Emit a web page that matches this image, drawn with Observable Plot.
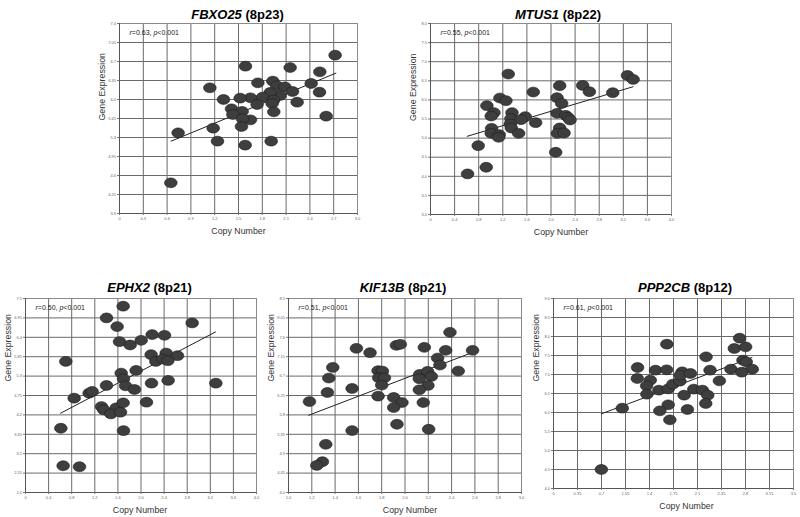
<!DOCTYPE html>
<html><head><meta charset="utf-8">
<script src="https://cdn.jsdelivr.net/npm/d3@7"></script>
<script src="https://cdn.jsdelivr.net/npm/@observablehq/plot@0.6"></script>
<style>
body{margin:0;background:#fff;}
#wrap{position:relative;width:800px;height:517px;overflow:hidden;background:#fff;font-family:"Liberation Sans",Arial,sans-serif;}
#wrap svg{position:absolute;overflow:visible;}
</style></head><body><div id="wrap"></div>
<script>
// ---------- DATA ----------
// FBXO25 (8p23)
const fbxo25X = [2.718,1.588,2.151,2.525,1.139,1.744,1.933,1.983,2.084,2.416,2.521,2.181,2.025,1.899,1.803,1.651,1.521,1.311,1.941,2.239,1.735,1.924,1.945,1.412,1.546,1.429,2.605,1.651,1.550,1.538,1.181,0.739,1.235,1.912,1.584,0.647];
const fbxo25Y = [6.817,6.614,6.589,6.510,6.215,6.307,6.338,6.252,6.233,6.295,6.135,6.147,6.074,6.129,6.043,6.031,6.025,6.000,5.988,5.951,5.908,5.926,5.773,5.828,5.779,5.724,5.693,5.625,5.644,5.503,5.472,5.386,5.233,5.233,5.159,4.465];
const fbxo25FitX = [0.651, 2.727];
const fbxo25FitY = [5.233, 6.485];
const fbxo25XTicks = ["0","0.3","0.6","0.9","1.2","1.5","1.8","2.1","2.4","2.7","3.0"];
const fbxo25YTicks = ["3.9","4.25","4.6","4.95","5.3","5.65","6.0","6.35","6.7","7.05","7.4"];

// MTUS1 (8p22)
const mtus1X = [1.291,3.269,3.363,2.526,2.144,2.637,1.706,3.025,1.152,1.252,2.100,2.177,0.936,1.053,1.008,1.352,1.573,1.335,1.501,1.745,2.100,2.244,2.283,2.316,1.014,1.008,1.141,1.130,1.324,1.341,1.463,2.144,2.105,2.216,0.792,2.078,0.925,0.615];
const mtus1Y = [6.676,6.641,6.537,6.380,6.371,6.214,6.206,6.188,6.049,5.979,6.057,5.909,5.848,5.666,5.578,5.666,5.561,5.509,5.483,5.404,5.648,5.596,5.543,5.474,5.256,5.125,5.090,5.021,5.369,5.265,5.125,5.265,5.125,5.134,4.803,4.629,4.237,4.063];
const mtus1FitX = [0.609, 3.363];
const mtus1FitY = [5.047, 6.345];
const mtus1XTicks = ["0","0.4","0.8","1.2","1.6","2.0","2.4","2.8","3.2","3.6","4.0"];
const mtus1YTicks = ["3.0","3.5","4.0","4.5","5.0","5.5","6.0","6.5","7.0","7.5","8.0"];

// EPHX2 (8p21)
const ephx2X = [1.691,1.403,1.587,2.886,2.193,2.407,1.628,1.812,2.003,2.176,2.436,2.632,2.257,2.378,2.465,0.698,1.916,1.657,1.697,1.732,1.887,1.403,2.182,2.470,3.296,0.843,1.102,1.154,1.316,1.356,1.570,1.478,1.645,1.691,2.095,0.612,1.697,0.652,0.935];
const ephx2Y = [7.282,6.950,6.703,6.808,6.476,6.457,6.277,6.182,6.315,5.907,5.954,5.878,5.717,5.784,5.736,5.717,5.461,5.385,5.224,5.025,4.920,5.034,5.100,5.177,5.100,4.674,4.816,4.864,4.437,4.342,4.399,4.228,4.276,4.541,4.560,3.821,3.754,2.758,2.730];
const ephx2FitX = [0.606, 3.290];
const ephx2FitY = [4.247, 6.552];
const ephx2XTicks = ["0","0.4","0.8","1.2","1.6","2.0","2.4","2.8","3.2","3.6","4.0"];
const ephx2YTicks = ["2.0","2.55","3.1","3.65","4.2","4.75","5.3","5.85","6.4","6.95","7.5"];

// KIF13B (8p21)
const kif13bX = [2.386,1.583,1.700,1.926,1.960,2.166,2.349,2.580,2.280,2.300,2.457,1.380,1.346,1.769,1.806,1.774,1.823,1.800,2.126,2.194,2.226,2.123,2.197,2.123,1.546,1.334,1.180,1.769,1.903,1.974,1.903,2.157,1.931,1.546,2.203,1.320,1.291,1.243];
const kif13bY = [7.716,7.344,7.243,7.414,7.437,7.367,7.298,7.298,7.119,6.956,6.817,6.902,6.654,6.824,6.817,6.661,6.661,6.491,6.739,6.809,6.692,6.638,6.483,6.382,6.413,6.320,6.110,6.235,6.204,6.087,5.971,6.087,5.583,5.436,5.467,5.118,4.714,4.629];
const kif13bFitX = [1.174, 2.589];
const kif13bFitY = [5.792, 7.259];
const kif13bXTicks = ["1.0","1.2","1.4","1.6","1.8","2.0","2.2","2.4","2.6","2.8","3.0"];
const kif13bYTicks = ["4.0","4.45","4.9","5.35","5.8","6.25","6.7","7.15","7.6","8.05","8.5"];

// PPP2CB (8p12)
const ppp2cbX = [2.715,2.637,2.802,1.653,2.225,2.763,2.811,2.588,2.899,2.744,2.283,2.419,1.226,1.488,1.650,1.222,1.411,1.358,1.362,1.537,1.673,1.741,1.843,1.877,1.848,1.997,1.905,2.046,2.172,2.249,2.220,1.953,1.673,1.551,1.697,1.003,0.698];
const ppp2cbY = [7.956,7.684,7.728,7.798,7.465,7.377,7.333,7.140,7.140,7.061,7.114,6.833,7.184,7.114,7.123,6.895,6.851,6.702,6.482,6.588,6.623,6.746,6.825,7.070,6.982,7.026,6.456,6.614,6.588,6.456,6.237,6.079,6.202,6.044,5.807,6.114,4.500];
const ppp2cbFitX = [0.698, 2.894];
const ppp2cbFitY = [5.965, 7.447];
const ppp2cbXTicks = ["0","0.35","0.7","1.05","1.4","1.75","2.1","2.45","2.8","3.15","3.5"];
const ppp2cbYTicks = ["4.0","4.5","5.0","5.5","6.0","6.5","7.0","7.5","8.0","8.5","9.0"];

const genes = ["FBXO25","MTUS1","EPHX2","KIF13B","PPP2CB"];
const bands = ["8p23","8p22","8p21","8p21","8p12"];
const rValues = ["0.63","0.55","0.50","0.51","0.61"];
const pValues = ["0.001","0.001","0.001","0.001","0.001"];
const xLabel = "Copy Number";
const yLabel = "Gene Expression";

// ---------- LAYOUT (page pixel frames and text offsets) ----------
const layout = [
  {L:119,R:357,T:23,B:213,tdx:-1,tdy:-5,cdx:0,gdy:2},
  {L:430,R:671,T:23,B:214,tdx:7,tdy:-5,cdx:10,gdy:2},
  {L:25,R:256,T:298,B:492,tdx:8.5,tdy:-7,cdx:-1,gdy:-14},
  {L:288,R:521,T:298,B:492,tdx:-2,tdy:-7,cdx:5,gdy:-14},
  {L:553,R:793,T:298,B:488,tdx:11.5,tdy:-7,cdx:13,gdy:-12}
];

const series = [
  [fbxo25X,fbxo25Y,fbxo25FitX,fbxo25FitY,fbxo25XTicks,fbxo25YTicks],
  [mtus1X,mtus1Y,mtus1FitX,mtus1FitY,mtus1XTicks,mtus1YTicks],
  [ephx2X,ephx2Y,ephx2FitX,ephx2FitY,ephx2XTicks,ephx2YTicks],
  [kif13bX,kif13bY,kif13bFitX,kif13bFitY,kif13bXTicks,kif13bYTicks],
  [ppp2cbX,ppp2cbY,ppp2cbFitX,ppp2cbFitY,ppp2cbXTicks,ppp2cbYTicks]
];

// ellipse symbol for the dots
const ellipse = {
  draw(ctx) {
    const rx = 6.3, ry = 4.9, k = 0.5523;
    ctx.moveTo(rx, 0);
    ctx.bezierCurveTo(rx, ry*k, rx*k, ry, 0, ry);
    ctx.bezierCurveTo(-rx*k, ry, -rx, ry*k, -rx, 0);
    ctx.bezierCurveTo(-rx, -ry*k, -rx*k, -ry, 0, -ry);
    ctx.bezierCurveTo(rx*k, -ry, rx, -ry*k, rx, 0);
    ctx.closePath();
  }
};

const wrap = document.getElementById("wrap");
const FONT = '"Liberation Sans", Arial, Helvetica, sans-serif';

series.forEach(([xs, ys, fx, fy, xt, yt], i) => {
  const b = layout[i];
  const ml = 40, mr = 8, mt = 28, mb = 30;
  const width = (b.R - b.L) + ml + mr;
  const height = (b.B - b.T) + mt + mb;
  const pts = xs.map((x, j) => ({x, y: ys[j]}));
  const fit = fx.map((x, j) => ({x, y: fy[j]}));
  const xv = xt.map(Number), yv = yt.map(Number);
  const xMap = new Map(xv.map((v, j) => [v, xt[j]]));
  const yMap = new Map(yv.map((v, j) => [v, yt[j]]));
  const chart = Plot.plot({
    width, height,
    marginLeft: ml, marginRight: mr, marginTop: mt, marginBottom: mb,
    style: {fontFamily: FONT, background: "transparent", overflow: "visible"},
    x: {domain: [xv[0], xv[xv.length-1]]},
    y: {domain: [yv[0], yv[yv.length-1]]},
    marks: [
      Plot.gridX(xv, {stroke: "#6a6a6a", strokeOpacity: 1, strokeWidth: 1}),
      Plot.gridY(yv, {stroke: "#6a6a6a", strokeOpacity: 1, strokeWidth: 1}),
      Plot.frame({stroke: "#8a8a8a", strokeWidth: 1}),
      Plot.ruleX([xv[0]], {stroke: "#555"}),
      Plot.ruleY([yv[0]], {stroke: "#555"}),
      Plot.axisX({ticks: xv, tickFormat: d => xMap.get(d), fontSize: 4, tickSize: 2, tickPadding: 1.5, label: null, stroke: "#777", fill: "#666"}),
      Plot.axisY({ticks: yv, tickFormat: d => yMap.get(d), fontSize: 4, tickSize: 2, tickPadding: 1.5, label: null, stroke: "#777", fill: "#666"}),
      Plot.line(fit, {x: "x", y: "y", stroke: "#222", strokeWidth: 1}),
      Plot.dot(pts, {x: "x", y: "y", symbol: ellipse, r: 5, fill: "#3e3e3e", stroke: "#1c1c1c", strokeWidth: 0.6}),
      Plot.text([genes[i]], {text: d => d, frameAnchor: "top", dx: b.tdx, dy: b.tdy, lineAnchor: "bottom", fontSize: 13, fontWeight: "bold", fill: "#000", className: "ttl"}),
      Plot.text([rValues[i]], {text: d => d, frameAnchor: "top-left", dx: 10, dy: 9, lineAnchor: "middle", textAnchor: "start", fontSize: 7, fill: "#222", className: "stat"}),
      Plot.text([xLabel], {text: d => d, frameAnchor: "bottom", dx: b.cdx, dy: 18, lineAnchor: "middle", fontSize: 8.8, fill: "#333"}),
      Plot.text([yLabel], {text: d => d, frameAnchor: "left", dx: -17, dy: b.gdy, rotate: -90, lineAnchor: "middle", fontSize: 8.8, fill: "#333"})
    ]
  });
  chart.style.left = (b.L - ml) + "px";
  chart.style.top = (b.T - mt) + "px";
  const t = chart.querySelector("g.ttl text");
  if (t) t.innerHTML = `<tspan font-style="italic">${genes[i]}</tspan> (${bands[i]})`;
  const s = chart.querySelector("g.stat text");
  if (s) s.innerHTML = `<tspan font-style="italic">r</tspan>=${rValues[i]}, <tspan font-style="italic">p</tspan>&lt;${pValues[i]}`;
  wrap.appendChild(chart);
});
</script></body></html>
